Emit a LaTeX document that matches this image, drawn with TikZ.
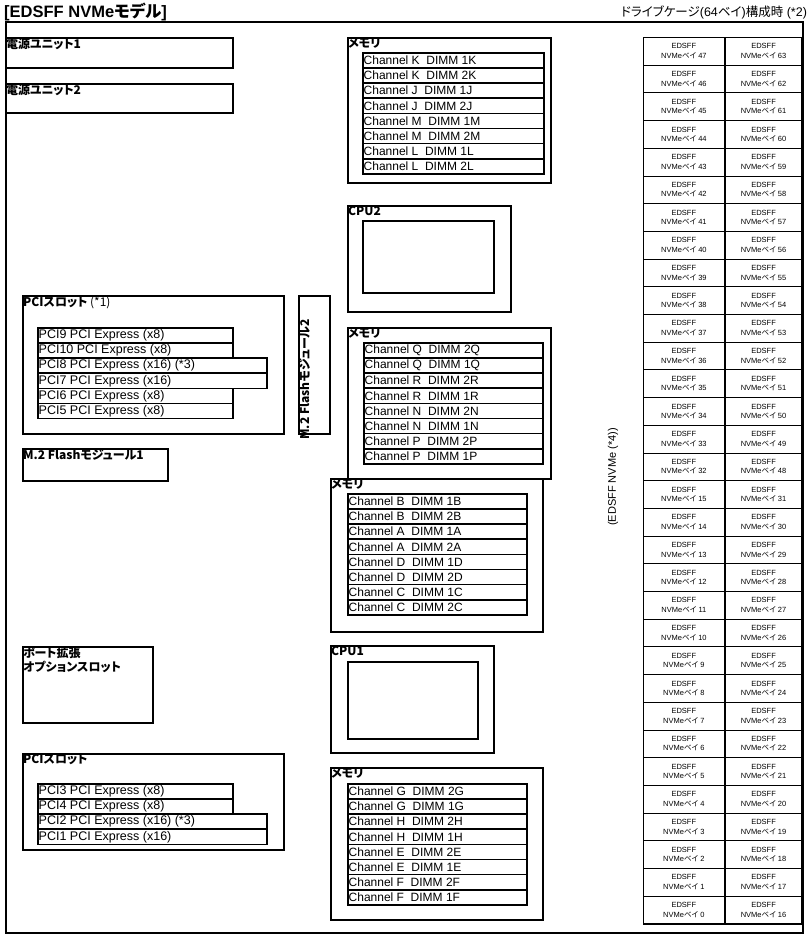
\documentclass[tikz,border=0pt]{standalone}
\usepackage{fontspec}
\setmainfont{Liberation Sans}
\newfontfamily\jpfont[RawFeature=+palt]{Noto Sans CJK JP}
\usetikzlibrary{positioning}
\tikzset{
  box/.style={draw=black, line width=1.8pt, anchor=north west, inner sep=0pt},
  slotrow/.style={draw=black, line width=1.5pt, anchor=north west, inner sep=0pt,
                  minimum width=#1, minimum height=15.15pt},
  blab/.style={anchor=north west, inner sep=1pt, align=left,
               font=\jpfont\bfseries\fontsize{12}{13.5}\selectfont},
  dtxt/.style={anchor=west, inner sep=0pt, font=\fontsize{12}{13}\selectfont},
  ptxt/.style={anchor=west, inner sep=0pt, font=\fontsize{12.5}{13}\selectfont},
  bay/.style={draw=black, line width=0.7pt, anchor=north west, inner sep=0pt,
              minimum height=27.7pt, align=center, font=\fontsize{7.5}{9.5}\selectfont},
}

\begin{document}
\begin{tikzpicture}[x=1pt, y=-1pt]
  \useasboundingbox (0,0) rectangle (809,935);
  \node[anchor=west, inner sep=0pt, font=\bfseries\fontsize{16.5}{17}\selectfont] (title) at (4,12)
    {[EDSFF NVMe{\jpfont モデル}]};
  \node[anchor=west, inner sep=0pt, font=\fontsize{12.5}{13}\selectfont] (cagehead) at (621,12)
    {{\jpfont ドライブケージ}(64{\jpfont ベイ}){\jpfont 構成時} (*2)};
  \node[box, minimum width=797pt, minimum height=911pt] (frame) at (5,21) {};

  % left column
  \node[box, minimum width=227pt, minimum height=30pt] (psu1) at (5,37) {};
  \node[blab] (psu1lab) at (psu1.north west) {電源ユニット1};
  \node[box, minimum width=227pt, minimum height=29pt] (psu2) at (5,83) {};
  \node[blab] (psu2lab) at (psu2.north west) {電源ユニット2};

  \node[box, minimum width=261pt, minimum height=138pt] (pcia) at (22,295) {};
  \node[blab] (pcialab) at (pcia.north west) {PCIスロット {\mdseries (*1)}};
  \foreach \w/\t [count=\i from 0] in {195/PCI9 PCI Express (x8), 195/PCI10 PCI Express (x8),
      229/PCI8 PCI Express (x16) (*3), 229/PCI7 PCI Express (x16),
      195/PCI6 PCI Express (x8), 195/PCI5 PCI Express (x8)}{
    \node[slotrow=\w pt] (pa\i) at (37,327+\i*15.15) {};
    \node[ptxt] (pa\i t) at ([xshift=1.5pt]pa\i.west) {\t};
  }
  \node[box, minimum width=31pt, minimum height=138pt] (m2b) at (298,295) {};
  \node[blab, rotate=90] (m2blab) at ([yshift=-6pt]m2b.south west) {M.2 Flashモジュール2};
  \node[box, minimum width=145pt, minimum height=32pt] (m2a) at (22,448) {};
  \node[blab] (m2alab) at (m2a.north west) {M.2 Flashモジュール1};
  \node[box, minimum width=130pt, minimum height=76pt] (portx) at (22,646) {};
  \node[blab] (portxlab) at (portx.north west) {ポート拡張\\オプションスロット};

  \node[box, minimum width=261pt, minimum height=96pt] (pcib) at (22,753) {};
  \node[blab] (pciblab) at (pcib.north west) {PCIスロット};
  \foreach \w/\t [count=\i from 0] in {195/PCI3 PCI Express (x8), 195/PCI4 PCI Express (x8),
      229/PCI2 PCI Express (x16) (*3), 229/PCI1 PCI Express (x16)}{
    \node[slotrow=\w pt] (pb\i) at (37,783+\i*15.15) {};
    \node[ptxt] (pb\i t) at ([xshift=1.5pt]pb\i.west) {\t};
  }

  % middle column
  \node[box, minimum width=203pt, minimum height=145pt] (memk) at (347,37) {};
  \node[blab] (memklab) at (memk.north west) {メモリ};
  \foreach \c/\d [count=\i from 0] in {K/1K, K/2K, J/1J, J/2J, M/1M, M/2M, L/1L, L/2L}{
    \node[slotrow=181pt] (mk\i) at (362,52+\i*15.15) {};
    \node[dtxt] (mk\i t) at ([xshift=1.5pt]mk\i.west) {Channel \c\ \ DIMM \d};
  }
  \node[box, minimum width=163pt, minimum height=106pt] (cpu2) at (347,205) {};
  \node[blab] (cpu2lab) at (cpu2.north west) {CPU2};
  \node[box, minimum width=131pt, minimum height=72pt] (cpu2in) at (362,220) {};

  \node[box, minimum width=203pt, minimum height=151pt] (memq) at (347,327) {};
  \node[blab] (memqlab) at (memq.north west) {メモリ};
  \foreach \c/\d [count=\i from 0] in {Q/2Q, Q/1Q, R/2R, R/1R, N/2N, N/1N, P/2P, P/1P}{
    \node[slotrow=179pt] (mq\i) at (363,342+\i*15.15) {};
    \node[dtxt] (mq\i t) at ([xshift=1.5pt]mq\i.west) {Channel \c\ \ DIMM \d};
  }
  \node[box, minimum width=212pt, minimum height=153pt] (memb) at (330,478) {};
  \node[blab] (memblab) at (memb.north west) {メモリ};
  \foreach \c/\d [count=\i from 0] in {B/1B, B/2B, A/1A, A/2A, D/1D, D/2D, C/1C, C/2C}{
    \node[slotrow=179pt] (mb\i) at (347,493+\i*15.15) {};
    \node[dtxt] (mb\i t) at ([xshift=1.5pt]mb\i.west) {Channel \c\ \ DIMM \d};
  }
  \node[box, minimum width=163pt, minimum height=107pt] (cpu1) at (330,645) {};
  \node[blab] (cpu1lab) at (cpu1.north west) {CPU1};
  \node[box, minimum width=130pt, minimum height=77pt] (cpu1in) at (347,661) {};

  \node[box, minimum width=212pt, minimum height=152pt] (memg) at (330,767) {};
  \node[blab] (memglab) at (memg.north west) {メモリ};
  \foreach \c/\d [count=\i from 0] in {G/2G, G/1G, H/2H, H/1H, E/2E, E/1E, F/2F, F/1F}{
    \node[slotrow=179pt] (mg\i) at (347,783+\i*15.15) {};
    \node[dtxt] (mg\i t) at ([xshift=1.5pt]mg\i.west) {Channel \c\ \ DIMM \d};
  }

  % drive cage
  \node[rotate=90, inner sep=0pt, font=\fontsize{11}{12}\selectfont] (nvmenote) at (613,477)
    {(EDSFF NVMe (*4))};
  \foreach \i in {0,...,31}{
    \pgfmathtruncatemacro{\nl}{\i<16 ? 47-\i : 31-\i}
    \pgfmathtruncatemacro{\nr}{\nl+16}
    \node[bay, minimum width=81pt] (bl\i) at (643,37+\i*27.7) {EDSFF\\NVMe{\jpfont ベイ} \nl};
    \node[bay, minimum width=77pt] (br\i) at (bl\i.north east) {EDSFF\\NVMe{\jpfont ベイ} \nr};
  }
  \draw[line width=2.2pt] (br0.north east) -- (br31.south east) -- (bl31.south west);
\end{tikzpicture}
\end{document}
